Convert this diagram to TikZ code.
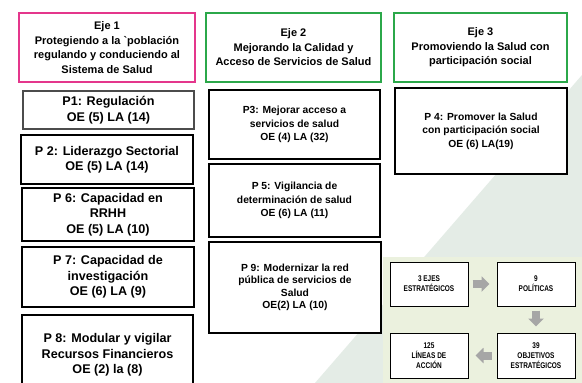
\documentclass[tikz,border=0pt]{standalone}
\usepackage{fontspec}
\setmainfont{Liberation Sans}
\newfontfamily\plainfont{Liberation Sans}
\newfontfamily\narrowfont[FakeStretch=0.78]{Liberation Sans}
\usetikzlibrary{arrows.meta}
\definecolor{pinkc}{HTML}{E4368C}
\definecolor{greenc}{HTML}{2BA84A}
\definecolor{shadec}{HTML}{E4ECE6}
\definecolor{panelc}{HTML}{EBF1DE}
\definecolor{arrowc}{HTML}{A6A6A6}
\begin{document}
\begin{tikzpicture}[x=1pt,y=-1pt,
  box/.style={draw=black, line width=1.2pt, fill=white, align=center, inner sep=0pt, font=\bfseries},
  ejebox/.style={box, line width=2pt, font=\fontsize{11}{14.5}\selectfont\bfseries},
  leftp/.style={box, font=\fontsize{12.6}{15.5}\selectfont\bfseries},
  midp/.style={box, font=\fontsize{10.3}{13.5}\selectfont\bfseries},
  smallbox/.style={draw=black, line width=1pt, fill=white, align=center, inner sep=0pt,
    minimum width=78pt, font=\fontsize{8.3}{10}\selectfont\narrowfont\bfseries},
  blockarrow/.style={draw=arrowc, line width=8pt, -{Triangle[width=15pt,length=8pt]}}
]
\useasboundingbox (0,0) rectangle (582,383);
\fill[white] (0,0) rectangle (582,383);
% background shading
\fill[shadec] (582,75) -- (315,383) -- (582,383) -- cycle;
\fill[panelc] (383,257) rectangle (582,383);

% Eje headers
\node[ejebox, draw=pinkc, minimum width=176pt, minimum height=69pt] (e1) at (107,47.5)
  {Eje 1\\Protegiendo a la {\plainfont\bfseries`}población\\regulando y conduciendo al\\Sistema de Salud};
\node[ejebox, draw=greenc, minimum width=175pt, minimum height=69pt] (e2) at (293.5,47.5)
  {Eje 2\\Mejorando la Calidad y\\Acceso de Servicios de Salud};
\node[ejebox, draw=greenc, minimum width=173pt, minimum height=69pt] (e3) at (480.5,47.5)
  {Eje 3\\Promoviendo la Salud con\\participación social};

% Left column
\node[leftp, draw=black!70, minimum width=171pt, minimum height=38pt] (p1) at (108.5,110)
  {P1: Regulación\\OE (5) LA (14)};
\node[leftp, minimum width=172pt, minimum height=49pt] (p2) at (107,159.5)
  {P 2: Liderazgo Sectorial\\OE (5) LA (14)};
\node[leftp, minimum width=172pt, minimum height=53pt] (p6) at (108,214.5)
  {P 6: Capacidad en\\RRHH\\OE (5) LA (10)};
\node[leftp, minimum width=172pt, minimum height=60pt] (p7) at (108,277)
  {P 7: Capacidad de\\investigación\\OE (6) LA (9)};
\node[leftp, minimum width=171pt, minimum height=80pt] (p8) at (107.5,355)
  {P 8: Modular y vigilar\\Recursos Financieros\\OE (2) la (8)};

% Middle column
\node[midp, minimum width=171pt, minimum height=69pt] (p3) at (294.5,124.5)
  {P3: Mejorar acceso a\\servicios de salud\\OE (4) LA (32)};
\node[midp, minimum width=171pt, minimum height=73pt] (p5) at (294.5,200.5)
  {P 5: Vigilancia de\\determinación de salud\\OE (6) LA (11)};
\node[midp, font=\fontsize{10.3}{12.5}\selectfont\bfseries, minimum width=172pt, minimum height=91pt] (p9) at (295,287.5)
  {P 9: Modernizar la red\\pública de servicios de\\Salud\\OE(2) LA (10)};

% Right column
\node[midp, minimum width=172pt, minimum height=86pt] (p4) at (481,131)
  {P 4: Promover la Salud\\con participación social\\OE (6) LA(19)};

% Summary panel
\node[smallbox, minimum height=44pt] (b1) at (429,284) {3 EJES\\ESTRATÉGICOS};
\node[smallbox, minimum height=44pt] (b2) at (536,284) {9\\POLÍTICAS};
\node[smallbox, minimum height=45pt] (b3) at (536,355.5) {39\\OBJETIVOS\\ESTRATÉGICOS};
\node[smallbox, minimum height=45pt] (b4) at (429,355.5) {125\\LÍNEAS DE\\ACCIÓN};

\draw[blockarrow, shorten <=4pt, shorten >=7pt] (b1.east) -- (b2.west);
\draw[blockarrow, shorten <=4pt, shorten >=6pt] (b2.south) -- (b3.north);
\draw[blockarrow, shorten <=5pt, shorten >=7pt] (b3.west) -- (b4.east);
\end{tikzpicture}
\end{document}
